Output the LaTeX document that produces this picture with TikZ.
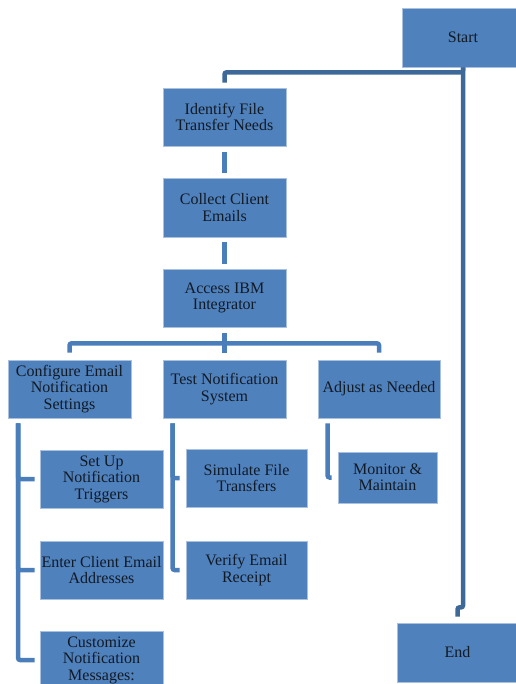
\documentclass[tikz,border=0pt]{standalone}
\usepackage{fontspec}
\setmainfont{Liberation Serif}
\usepackage{tikz}

\definecolor{boxblue}{HTML}{4F81BD}
\definecolor{boxedge}{HTML}{A9C0DF}
\definecolor{linkblue}{HTML}{4A7EBB}
\definecolor{trunkblue}{HTML}{3D6898}
\definecolor{ink}{HTML}{121A24}

\begin{document}
\begin{tikzpicture}[x=1pt,y=-1pt,
  box/.style={draw=boxedge,line width=.8pt,fill=boxblue,text=ink,align=center,inner sep=0pt,
    minimum width=123pt,minimum height=58pt,font=\fontsize{16}{16.5}\selectfont},
  link/.style={draw=linkblue,line width=4.5pt,rounded corners=2pt},
  trunk/.style={draw=trunkblue,line width=4.5pt,rounded corners=2pt}]
  \useasboundingbox (0,0) rectangle (515,684);

  \draw (463,37.5) node[box,minimum width=122pt,minimum height=59pt] (S) {Start} (457.5,652.5) node[box,minimum width=121pt,minimum height=59pt] (E) {End};
  \draw (224.5,117) node[box] (ID) {Identify File\\Transfer Needs} +(0,90.5) node[box,minimum height=59pt] (CC) {Collect Client\\Emails} +(0,181) node[box] (AI) {Access IBM\\Integrator};
  \draw (69.5,389) node[box] (CF) {Configure Email\\Notification\\Settings} (224.5,389) node[box] (TN) {Test Notification\\System} (379,389) node[box,minimum width=122pt] (AN) {Adjust as Needed};
  \draw (101.5,479) node[box] (SU) {Set Up\\Notification\\Triggers} +(0,91) node[box] (EC) {Enter Client Email\\Addresses} +(0,181) node[box] (CM) {Customize\\Notification\\Messages:};
  \draw (246.5,478) node[box,minimum width=121pt] (SF) {Simulate File\\Transfers} +(0,92) node[box,minimum width=121pt] (VE) {Verify Email\\Receipt};
  \draw (387.5,477.5) node[box,minimum width=99pt,minimum height=51pt] (MM) {Monitor \&\\Maintain};

  \draw[trunk,shorten >=5pt] (S.south) -- ++(0,5) -| (ID);
  \draw[trunk,shorten >=6pt] (S.south) -- ++(0,540) -| (E);

  \draw[link,shorten <=6pt,shorten >=5pt] (ID) -- (CC);
  \draw[link,shorten <=5pt,shorten >=5pt] (CC) -- (AI);

  \coordinate (F) at ([yshift=-16pt]AI.south);
  \draw[link,shorten <=6pt] (AI) -- (F);
  \draw[link,shorten >=7pt] (F) -| (CF);
  \draw[link,shorten >=7pt] (F) -- (TN);
  \draw[link,shorten >=7pt] (F) -| (AN);

  \coordinate (CFB) at ([xshift=10.5pt,yshift=-5pt]CF.south west);
  \coordinate (TNB) at ([xshift=10pt,yshift=-5pt]TN.south west);
  \coordinate (ANB) at ([xshift=10pt,yshift=-5pt]AN.south west);
  \foreach \n in {SU,EC,CM} \draw[link,shorten >=5pt] (CFB) |- (\n);
  \foreach \n in {SF,VE} \draw[link,shorten >=6pt] (TNB) |- (\n);
  \draw[link,shorten >=6pt] (ANB) |- (MM);
\end{tikzpicture}
\end{document}
